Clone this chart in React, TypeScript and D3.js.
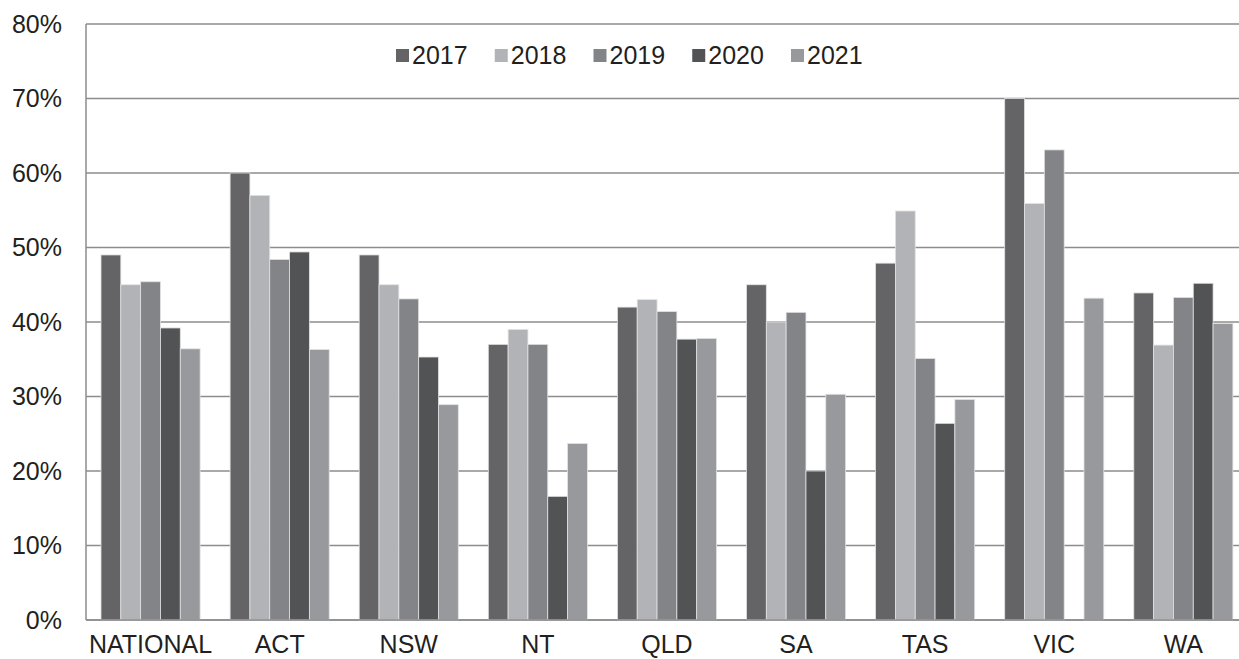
import React from "react";
import * as d3 from "d3";

const categories = ["NATIONAL", "ACT", "NSW", "NT", "QLD", "SA", "TAS", "VIC", "WA"];
const years = ["2017", "2018", "2019", "2020", "2021"];
const v2017 = [49.0, 60.0, 49.0, 37.0, 42.0, 45.0, 47.9, 70.0, 43.9];
const v2018 = [45.0, 57.0, 45.0, 39.0, 43.0, 40.0, 54.9, 55.9, 36.9];
const v2019 = [45.4, 48.4, 43.1, 37.0, 41.4, 41.3, 35.1, 63.1, 43.3];
const v2020 = [39.2, 49.4, 35.3, 16.6, 37.7, 20.0, 26.4, null, 45.2];
const v2021 = [36.4, 36.3, 28.9, 23.7, 37.8, 30.3, 29.6, 43.2, 39.8];
const seriesValues = [v2017, v2018, v2019, v2020, v2021];
const colors = ["#646466", "#b2b3b6", "#838487", "#525355", "#98999c"];
const yTicks = [0, 10, 20, 30, 40, 50, 60, 70, 80];

export default function App() {
  const W = 1239, H = 659;
  const left = 86, top = 24, bottom = 620;
  const groupW = 129.1;
  const right = left + groupW * categories.length;
  const x0 = d3.scaleBand<string>().domain(categories).range([left, right]).paddingInner(0).paddingOuter(0);
  const x1 = d3.scaleBand<string>().domain(years).range([15, groupW - 15]).padding(0);
  const y = d3.scaleLinear().domain([0, 80]).range([bottom, top]);
  const font = "'Liberation Sans', Arial, sans-serif";
  const legendX = d3.scaleLinear().domain([0, 4]).range([396, 791]);
  const fs = 25;

  return (
    <svg width={W} height={H} style={{ position: "absolute", left: 0, top: 0, background: "#fff" }}>
      <rect x={0} y={0} width={W} height={H} fill="#fff" />
      {yTicks.map((t) => (
        <g key={t}>
          <line x1={left} x2={right} y1={y(t)} y2={y(t)} stroke="#8c8c8e" strokeWidth={1.5} />
          <text x={62} y={y(t)} dy="0.35em" textAnchor="end" fontFamily={font} fontSize={fs} fill="#231f20">
            {t}%
          </text>
        </g>
      ))}
      <line x1={left} x2={left} y1={top} y2={bottom} stroke="#8c8c8e" strokeWidth={1.5} />
      {categories.map((c, ci) => (
        <g key={c} transform={`translate(${x0(c)},0)`}>
          {years.map((yr, si) => {
            const v = seriesValues[si][ci];
            if (v == null) return null;
            return (
              <rect
                key={yr}
                x={x1(yr)}
                y={y(v)}
                width={x1.bandwidth()}
                height={y(0) - y(v)}
                fill={colors[si]}
                stroke="#e2e2e4"
                strokeWidth={0.8}
              />
            );
          })}
          <text x={groupW / 2} y={653} textAnchor="middle" fontFamily={font} fontSize={fs} fill="#231f20">
            {c}
          </text>
        </g>
      ))}
      <line x1={left} x2={right} y1={bottom} y2={bottom} stroke="#8c8c8e" strokeWidth={1.5} />
      {years.map((yr, i) => (
        <g key={yr} transform={`translate(${legendX(i)},0)`}>
          <rect x={0} y={49} width={13} height={13} fill={colors[i]} />
          <text x={16} y={64} fontFamily={font} fontSize={fs} fill="#231f20">
            {yr}
          </text>
        </g>
      ))}
    </svg>
  );
}
